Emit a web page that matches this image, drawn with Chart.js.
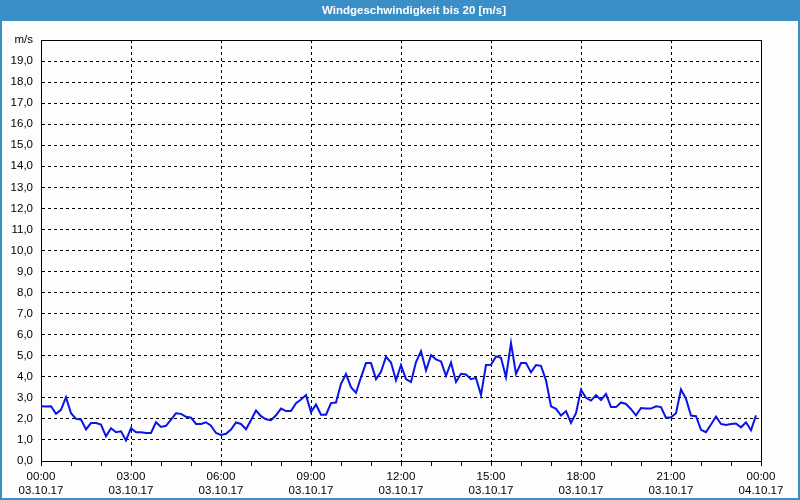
<!DOCTYPE html>
<html>
<head>
<meta charset="utf-8">
<script src="https://cdn.jsdelivr.net/npm/chart.js@4/dist/chart.umd.min.js"></script>
<style>
  html, body { margin: 0; padding: 0; background: #fcfdfc; }
  #wrap { position: relative; width: 800px; height: 500px; }
  canvas { position: absolute; left: 0; top: 0; }
</style>
</head>
<body>
<div id="wrap"><canvas id="c" width="800" height="500"></canvas></div>
<script>
// ---- data ----
const TITLE = 'Windgeschwindigkeit bis 20 [m/s]';
const UNIT = 'm/s';
const STEP_MINUTES = 10;
const hourLabels = ['00:00','03:00','06:00','09:00','12:00','15:00','18:00','21:00','00:00'];
const dateLabels = ['03.10.17','03.10.17','03.10.17','03.10.17','03.10.17','03.10.17','03.10.17','03.10.17','04.10.17'];
const speeds = [
  2.6, 2.59, 2.6, 2.24, 2.43, 3.03, 2.27, 2.0, 1.97, 1.5,
  1.8, 1.8, 1.73, 1.17, 1.56, 1.37, 1.41, 0.98, 1.56, 1.37,
  1.37, 1.33, 1.33, 1.84, 1.62, 1.67, 1.97, 2.27, 2.24, 2.1,
  2.06, 1.76, 1.76, 1.84, 1.68, 1.33, 1.24, 1.29, 1.49, 1.83,
  1.76, 1.51, 1.95, 2.4, 2.13, 1.98, 1.94, 2.17, 2.49, 2.37,
  2.37, 2.75, 2.92, 3.13, 2.32, 2.68, 2.2, 2.2, 2.75, 2.78,
  3.67, 4.13, 3.51, 3.24, 3.98, 4.65, 4.65, 3.89, 4.24, 4.95,
  4.68, 3.83, 4.56, 3.89, 3.75, 4.7, 5.22, 4.3, 5.03, 4.83,
  4.73, 4.05, 4.68, 3.75, 4.14, 4.11, 3.89, 3.95, 3.13, 4.56,
  4.57, 4.97, 4.9, 3.98, 5.6, 4.14, 4.65, 4.65, 4.21, 4.56,
  4.52, 3.83, 2.6, 2.48, 2.16, 2.37, 1.81, 2.27, 3.38, 3.0,
  2.87, 3.13, 2.9, 3.19, 2.56, 2.56, 2.78, 2.71, 2.46, 2.17,
  2.52, 2.49, 2.49, 2.6, 2.56, 2.05, 2.08, 2.27, 3.4, 2.95,
  2.16, 2.13, 1.48, 1.37, 1.73, 2.11, 1.76, 1.71, 1.76, 1.78,
  1.6, 1.84, 1.46, 2.17
];

const points = speeds.map((v, i) => ({ x: i * STEP_MINUTES / 60, y: v }));
const FONT = 'Liberation Sans, Arial, sans-serif';

const framePlugin = {
  id: 'frame',
  beforeDraw(chart) {
    const ctx = chart.ctx;
    ctx.save();
    ctx.fillStyle = '#fcfdfc';
    ctx.fillRect(0, 0, 800, 500);
    ctx.fillStyle = '#3c8fc6';
    ctx.fillRect(0, 0, 800, 21);
    ctx.fillRect(0, 0, 2, 500);
    ctx.fillRect(798, 0, 2, 500);
    ctx.fillRect(0, 498, 800, 2);
    ctx.fillStyle = '#ffffff';
    ctx.font = 'bold 11.5px ' + FONT;
    ctx.textAlign = 'center';
    ctx.textBaseline = 'middle';
    ctx.fillText(TITLE, 414, 11);
    ctx.restore();
  },
  beforeDatasetsDraw(chart) {
    const a = chart.chartArea;
    const ctx = chart.ctx;
    ctx.save();
    ctx.strokeStyle = '#000';
    ctx.lineWidth = 1;
    ctx.setLineDash([]);
    ctx.strokeRect(Math.round(a.left) + 0.5, Math.round(a.top) + 0.5,
                   Math.round(a.right - a.left), Math.round(a.bottom - a.top));
    ctx.restore();
  }
};

new Chart(document.getElementById('c'), {
  type: 'line',
  data: {
    datasets: [{
      data: points,
      borderColor: '#0a14e6',
      borderWidth: 2,
      pointRadius: 0,
      tension: 0,
      fill: false
    }]
  },
  options: {
    responsive: false,
    animation: false,
    layout: { padding: { top: 40, right: 39, left: 0, bottom: 0 } },
    plugins: { legend: { display: false }, tooltip: { enabled: false }, title: { display: false } },
    scales: {
      x: {
        type: 'linear',
        min: 0, max: 24,
        afterFit(s) { s.height = 39; },
        afterBuildTicks(s) { s.ticks = []; for (let h = 0; h <= 24; h++) s.ticks.push({ value: h }); },
        grid: {
          color: c => (c.tick && c.tick.value % 3 === 0 && c.tick.value > 0 && c.tick.value < 24) ? '#000' : 'rgba(0,0,0,0)',
          tickColor: '#000',
          tickLength: 5,
          tickBorderDash: [],
          lineWidth: 1
        },
        border: { display: true, color: '#000', dash: [3, 3] },
        ticks: {
          autoSkip: false,
          maxRotation: 0,
          padding: 4,
          color: '#000',
          font: { family: FONT, size: 11.5, lineHeight: 1.22 },
          callback(v) {
            if (v % 3 !== 0) return '';
            const k = v / 3;
            return [hourLabels[k], dateLabels[k]];
          }
        }
      },
      y: {
        type: 'linear',
        min: 0, max: 20,
        afterFit(s) { s.width = 41; },
        grid: {
          color: c => (c.tick && c.tick.value > 0 && c.tick.value < 20) ? '#000' : 'rgba(0,0,0,0)',
          drawTicks: false,
          lineWidth: 1
        },
        border: { display: true, color: '#000', dash: [3, 3] },
        ticks: {
          stepSize: 1,
          padding: 8,
          color: '#000',
          font: { family: FONT, size: 11.5 },
          callback(v) { return v === 20 ? UNIT : v.toFixed(1).replace('.', ','); }
        }
      }
    }
  },
  plugins: [framePlugin]
});
</script>
</body>
</html>
